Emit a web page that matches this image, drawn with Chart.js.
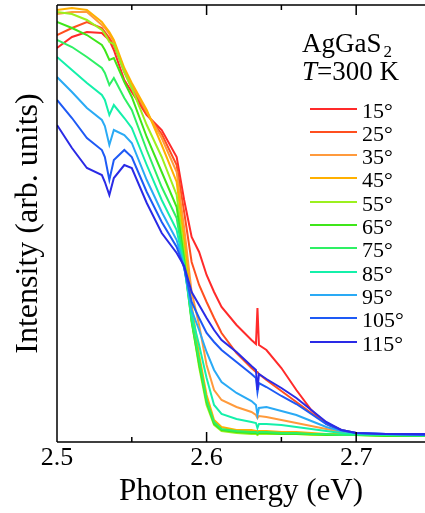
<!DOCTYPE html>
<html>
<head>
<meta charset="utf-8">
<script src="https://cdn.jsdelivr.net/npm/chart.js@4.4.1/dist/chart.umd.min.js"></script>
<style>
  body { margin: 0; background: #fff; }
  #wrap { position: relative; width: 425px; height: 513px; }
  #legend { position: absolute; left: 0; top: 0; width: 425px; height: 400px; font-family: "Liberation Serif", "Times New Roman", serif; color: #000; pointer-events: none; }
  .ttl { position: absolute; left: 302px; font-size: 27px; line-height: 28px; white-space: nowrap; }
  .ttl sub { font-size: 17px; vertical-align: -5px; line-height: 0; margin-left: 2px; }
  .row { position: absolute; left: 310px; height: 23.3px; font-size: 22px; line-height: 23.3px; white-space: nowrap; }
  .row .sw { position: absolute; left: 0; top: 9px; width: 47px; height: 2px; }
  .row .lb { position: absolute; left: 52px; top: 0; }
</style>
</head>
<body>
<div id="wrap">
  <canvas id="myChart" width="425" height="513"></canvas>
  <div id="legend"></div>
</div>
<script>
// photon energy (eV), same grid for every curve
const energy = [2.500, 2.510, 2.520, 2.530, 2.532, 2.535, 2.538, 2.545, 2.550, 2.560, 2.570, 2.580, 2.585, 2.590, 2.595, 2.600,
   2.605, 2.610, 2.620, 2.630, 2.633, 2.634, 2.635, 2.640, 2.650, 2.660, 2.670, 2.680, 2.690, 2.700, 2.720, 2.746];

// intensity (arb. units) for each angle
const int15 = [394, 405, 410, 409, 406, 402, 392, 362, 350, 327, 312, 285, 242, 205, 190, 167, 150, 135, 117, 102, 98, 134, 97, 92, 74, 52, 32, 18, 11, 8, 7, 7];
const int25 = [407, 414, 420, 414, 410, 404, 397, 370, 354, 328, 308, 277, 230, 180, 157, 140, 124, 109, 89, 74, 70, 70, 68, 62, 51, 40, 29, 19, 12, 9, 7, 7];
const int35 = [428, 430, 430, 417, 414, 408, 400, 372, 357, 330, 304, 270, 214, 150, 117, 77, 52, 42, 35, 30, 27, 24, 26, 25, 22, 19, 16, 13, 10, 8, 7, 7];
const int45 = [432, 434, 432, 420, 416, 410, 402, 374, 359, 332, 297, 260, 202, 137, 87, 47, 22, 15, 12, 12, 11, 11, 11, 11, 10, 10, 9, 8, 8, 7, 7, 6];
const int55 = [430, 428, 422, 412, 408, 400, 398, 370, 354, 317, 285, 247, 190, 122, 75, 37, 17, 11, 9, 8, 8, 7, 8, 8, 8, 8, 7, 7, 7, 7, 6, 6];
const int65 = [420, 414, 407, 397, 392, 382, 384, 360, 345, 305, 270, 235, 182, 120, 78, 40, 18, 12, 10, 9, 9, 8, 9, 9, 8, 8, 8, 7, 7, 7, 6, 6];
const int75 = [402, 395, 385, 374, 369, 357, 364, 344, 332, 292, 255, 224, 178, 122, 82, 42, 20, 13, 11, 10, 10, 9, 10, 10, 9, 9, 8, 8, 7, 7, 7, 6];
const int85 = [385, 372, 359, 347, 342, 327, 337, 324, 314, 277, 242, 212, 176, 127, 97, 64, 37, 28, 23, 20, 19, 14, 18, 18, 17, 15, 13, 11, 9, 8, 7, 7];
const int95 = [365, 350, 334, 322, 316, 297, 312, 307, 299, 262, 230, 202, 175, 132, 112, 90, 72, 60, 49, 41, 37, 27, 34, 35, 31, 27, 21, 15, 11, 9, 8, 7];
const int105 = [342, 324, 304, 292, 285, 262, 282, 292, 285, 250, 220, 195, 174, 140, 124, 109, 100, 92, 80, 68, 64, 50, 59, 55, 46, 38, 28, 18, 12, 9, 8, 7];
const int115 = [317, 294, 274, 267, 260, 247, 264, 277, 274, 239, 209, 189, 176, 150, 137, 124, 112, 102, 90, 76, 72, 52, 68, 63, 54, 44, 32, 20, 12, 9, 8, 8];

const angles = ['15°', '25°', '35°', '45°', '55°', '65°', '75°', '85°', '95°', '105°', '115°'];
const colors = ['#ff2a2a', '#ff4f1f', '#ff9a3c', '#ffb000', '#9cf01e', '#3fe61a', '#2ef064', '#14f0aa', '#2aaaf5', '#1e5af5', '#2a2ae6'];
const allSeries = [int15, int25, int35, int45, int55, int65, int75, int85, int95, int105, int115];

const xTickValues = [2.5, 2.6, 2.7];
const xTickLabels = ['2.5', '2.6', '2.7'];
const xMinorTicks = [2.55, 2.65];

const datasets = allSeries.map((s, i) => ({
   label: angles[i],
   data: s.map((v, k) => ({x: energy[k], y: v})),
   borderColor: colors[i],
   backgroundColor: colors[i],
   borderWidth: 2,
   pointRadius: 0,
   tension: 0,
   order: allSeries.length - i
}));

// frame with inward ticks (left, top, bottom)
const framePlugin = {
   id: 'frame',
   afterDraw(chart) {
      const {ctx, chartArea: a, scales: {x}} = chart;
      ctx.save();
      ctx.strokeStyle = '#000';
      ctx.lineWidth = 1.5;
      ctx.beginPath();
      ctx.moveTo(a.left, a.top);
      ctx.lineTo(a.left, a.bottom);
      ctx.moveTo(a.left, a.top);
      ctx.lineTo(a.right, a.top);
      ctx.moveTo(a.left, a.bottom);
      ctx.lineTo(a.right, a.bottom);
      xTickValues.forEach(v => {
         const px = x.getPixelForValue(v);
         ctx.moveTo(px, a.bottom); ctx.lineTo(px, a.bottom - 10);
         ctx.moveTo(px, a.top); ctx.lineTo(px, a.top + 10);
      });
      xMinorTicks.forEach(v => {
         const px = x.getPixelForValue(v);
         ctx.moveTo(px, a.bottom); ctx.lineTo(px, a.bottom - 5);
         ctx.moveTo(px, a.top); ctx.lineTo(px, a.top + 5);
      });
      ctx.stroke();
      ctx.restore();
   }
};

const ctx = document.getElementById('myChart').getContext('2d');

const chart = new Chart(ctx, {
   type: 'line',
   data: {datasets: datasets},
   options: {
      responsive: false,
      animation: false,
      events: [],
      layout: {padding: {top: 5, right: 0, left: 0, bottom: 0}},
      plugins: {legend: {display: false}, tooltip: {enabled: false}},
      scales: {
         x: {
            type: 'linear',
            min: 2.5,
            max: 2.746,
            afterFit: (scale) => { scale.height = 71; },
            afterBuildTicks: (scale) => { scale.ticks = xTickValues.map(v => ({value: v})); },
            grid: {display: false, drawTicks: false},
            border: {display: false},
            ticks: {
               autoSkip: false,
               maxRotation: 0,
               padding: 1,
               color: '#000',
               font: {family: 'Liberation Serif', size: 26},
               callback: (v) => xTickLabels[xTickValues.indexOf(Math.round(v * 100) / 100)] || ''
            },
            title: {
               display: true,
               text: 'Photon energy (eV)',
               color: '#000',
               font: {family: 'Liberation Serif', size: 31},
               padding: {top: 0, bottom: 3}
            }
         },
         y: {
            min: 0,
            max: 437,
            afterFit: (scale) => { scale.width = 57; },
            grid: {display: false, drawTicks: false},
            border: {display: false},
            ticks: {display: false},
            title: {
               display: true,
               text: 'Intensity (arb. units)',
               color: '#000',
               font: {family: 'Liberation Serif', size: 32},
               padding: {top: 9, bottom: 0}
            }
         }
      }
   },
   plugins: [framePlugin]
});

// legend in html so the title can have italics and a subscript
const legend = document.getElementById('legend');
legend.innerHTML = '<div class="ttl" style="top:29px">AgGaS<sub>2</sub></div>' +
   '<div class="ttl" style="top:57px"><i>T</i>=300 K</div>';
angles.forEach((name, i) => {
   const row = document.createElement('div');
   row.className = 'row';
   row.style.top = (98.5 + 23.3 * i) + 'px';
   const sw = document.createElement('div');
   sw.className = 'sw';
   sw.style.background = colors[i];
   const lb = document.createElement('div');
   lb.className = 'lb';
   lb.textContent = name;
   row.appendChild(sw);
   row.appendChild(lb);
   legend.appendChild(row);
});
</script>
</body>
</html>
